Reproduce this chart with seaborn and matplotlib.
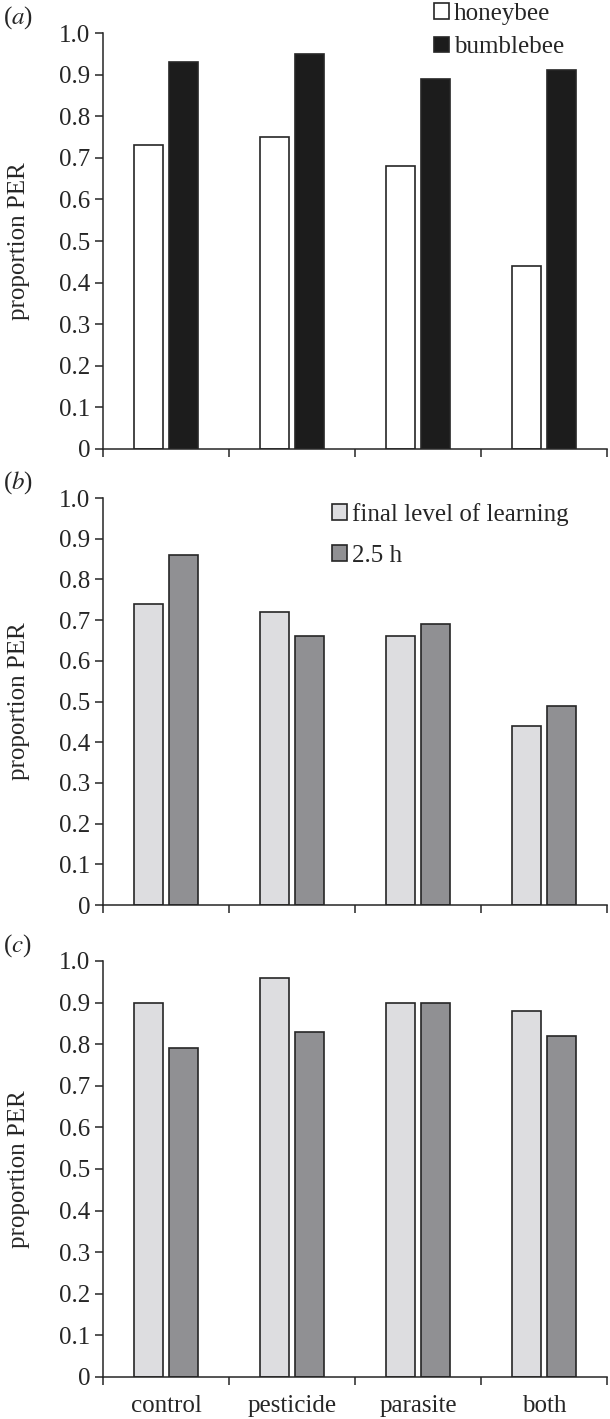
import matplotlib
matplotlib.use("Agg")
import matplotlib.pyplot as plt
import pandas as pd
import seaborn as sns

# proportion of bees showing PER, per treatment
treatments = ["control", "pesticide", "parasite", "both"]

honeybee = [0.73, 0.75, 0.68, 0.44]
bumblebee = [0.93, 0.95, 0.89, 0.91]

final_b = [0.74, 0.72, 0.66, 0.44]
later_b = [0.86, 0.66, 0.69, 0.49]

final_c = [0.90, 0.96, 0.90, 0.88]
later_c = [0.79, 0.83, 0.90, 0.82]

y_ticks = [0, 0.1, 0.2, 0.3, 0.4, 0.5, 0.6, 0.7, 0.8, 0.9, 1.0]
y_tick_labels = ["0", "0.1", "0.2", "0.3", "0.4", "0.5", "0.6", "0.7", "0.8", "0.9", "1.0"]


def long_frame(series):
    rows = []
    for name, vals in series.items():
        for t, v in zip(treatments, vals):
            rows.append({"treatment": t, "group": name, "value": v})
    return pd.DataFrame(rows)


sns.set_style("ticks")
plt.rcParams["font.family"] = ["Liberation Serif", "DejaVu Serif"]
plt.rcParams["mathtext.fontset"] = "stix"

FS = 18
EDGE = "#262626"

fig = plt.figure(figsize=(6.1, 14.19), dpi=100)

panels = [
    ("a", {"honeybee": honeybee, "bumblebee": bumblebee}, ["#ffffff", "#1c1c1c"],
     [0.169, 0.6836, 0.826, 0.2931], (0.657, 1.072), 0.45),
    ("b", {"final level of learning": final_b, "2.5 h": later_b}, ["#dcdde0", "#8f9094"],
     [0.169, 0.3622, 0.826, 0.2868], (0.455, 0.988), 0.75),
    ("c", {"final level of learning": final_c, "2.5 h": later_c}, ["#dcdde0", "#8f9094"],
     [0.169, 0.0296, 0.826, 0.2932], None, 1.0),
]

for letter, series, colors, rect, leg_pos, spacing in panels:
    ax = fig.add_axes(rect)
    df = long_frame(series)
    sns.barplot(data=df, x="treatment", y="value", hue="group",
                palette=colors, width=0.56, gap=0.18,
                edgecolor=EDGE, linewidth=1.2, errorbar=None, ax=ax)

    ax.set_ylim(0, 1.0)
    ax.set_xlim(-0.5, 3.5)
    ax.set_yticks(y_ticks)
    ax.set_yticklabels(y_tick_labels, fontsize=FS)
    ax.set_xticks([-0.5, 0.5, 1.5, 2.5, 3.5])
    ax.set_xticklabels([])
    ax.set_xticks([0, 1, 2, 3], minor=True)
    if letter == "c":
        ax.set_xticklabels(treatments, minor=True, fontsize=FS)
    else:
        ax.set_xticklabels([], minor=True)
    ax.tick_params(axis="x", which="minor", length=0, pad=13)
    ax.tick_params(axis="both", which="major", length=6, width=1.1, color=EDGE, pad=3)
    ax.set_xlabel("")
    ax.set_ylabel("proportion PER", fontsize=FS)
    ax.yaxis.set_label_coords(-0.145, 0.5)
    for side in ["top", "right"]:
        ax.spines[side].set_visible(False)
    for side in ["left", "bottom"]:
        ax.spines[side].set_linewidth(1.1)
        ax.spines[side].set_color(EDGE)

    if leg_pos is not None:
        ax.legend(loc="upper left", bbox_to_anchor=leg_pos, frameon=False,
                  fontsize=FS, handlelength=0.6, handleheight=0.6,
                  handletextpad=0.2, labelspacing=spacing, borderpad=0,
                  borderaxespad=0)
    else:
        ax.get_legend().remove()

    fig.text(0.005, rect[1] + rect[3] + 0.011, f"($\\it{{{letter}}}$)",
             fontsize=FS, ha="left", va="center")

fig.savefig("out.png", dpi=100, facecolor="white")
